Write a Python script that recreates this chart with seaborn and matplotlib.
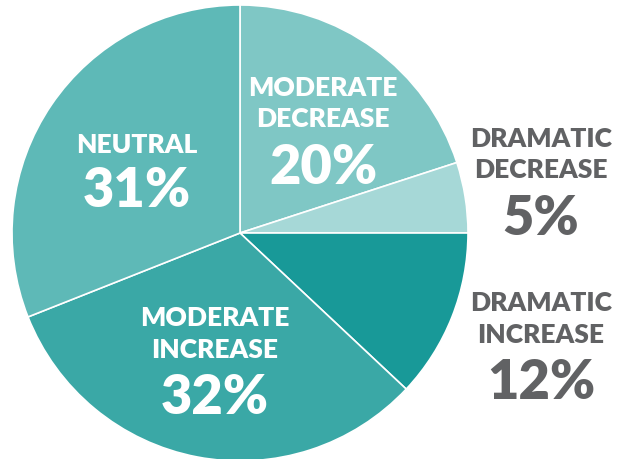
import matplotlib
matplotlib.use("Agg")
import matplotlib.pyplot as plt
import seaborn as sns

sns.set_theme(style="white")
plt.rcParams['font.family'] = ['Lato', 'DejaVu Sans']

categories = ["MODERATE\nDECREASE", "DRAMATIC\nDECREASE", "DRAMATIC\nINCREASE", "MODERATE\nINCREASE", "NEUTRAL"]
values = [20, 5, 12, 32, 31]
colors = ["#7fc7c5", "#a6d8d7", "#189998", "#3aa8a6", "#5eb9b7"]

W, H = 628, 460
fig = plt.figure(figsize=(W / 100, H / 100), dpi=100)
cx, cy, r = 240, 234, 228
ax = fig.add_axes([(cx - r) / W, (H - cy - r) / H, 2 * r / W, 2 * r / H])
ax.pie(values, colors=colors, startangle=90, counterclock=False,
       wedgeprops=dict(edgecolor="white", linewidth=1.2), radius=1)
ax.set_xlim(-1, 1)
ax.set_ylim(-1, 1)
ax.set_aspect("equal")
ax.axis("off")
for p in ax.patches:
    p.set_clip_on(False)

def px(x, y):
    return x / W, 1 - y / H

# label positions (pixels): (x, label_y1, label_y2, pct_y, color)
positions = [
    (323, 88, 119, 168, "white"),
    (541, 139, 170, 219, "#616264"),
    (541, 303, 335, 383, "#616264"),
    (215, 318, 350, 398, "white"),
    (137, 145, None, 191, "white"),
]
for cat, val, (x, y1, y2, yp, c) in zip(categories, values, positions):
    lines = cat.split("\n")
    fig.text(*px(x, y1), lines[0], ha="center", va="center", color=c,
             fontsize=19, fontweight="heavy")
    if y2 is not None and len(lines) > 1:
        fig.text(*px(x, y2), lines[1], ha="center", va="center", color=c,
                 fontsize=19, fontweight="heavy")
    fig.text(*px(x, yp), f"{val}%", ha="center", va="center", color=c,
             fontsize=39, fontweight="heavy")

fig.savefig("out.png", dpi=100)
